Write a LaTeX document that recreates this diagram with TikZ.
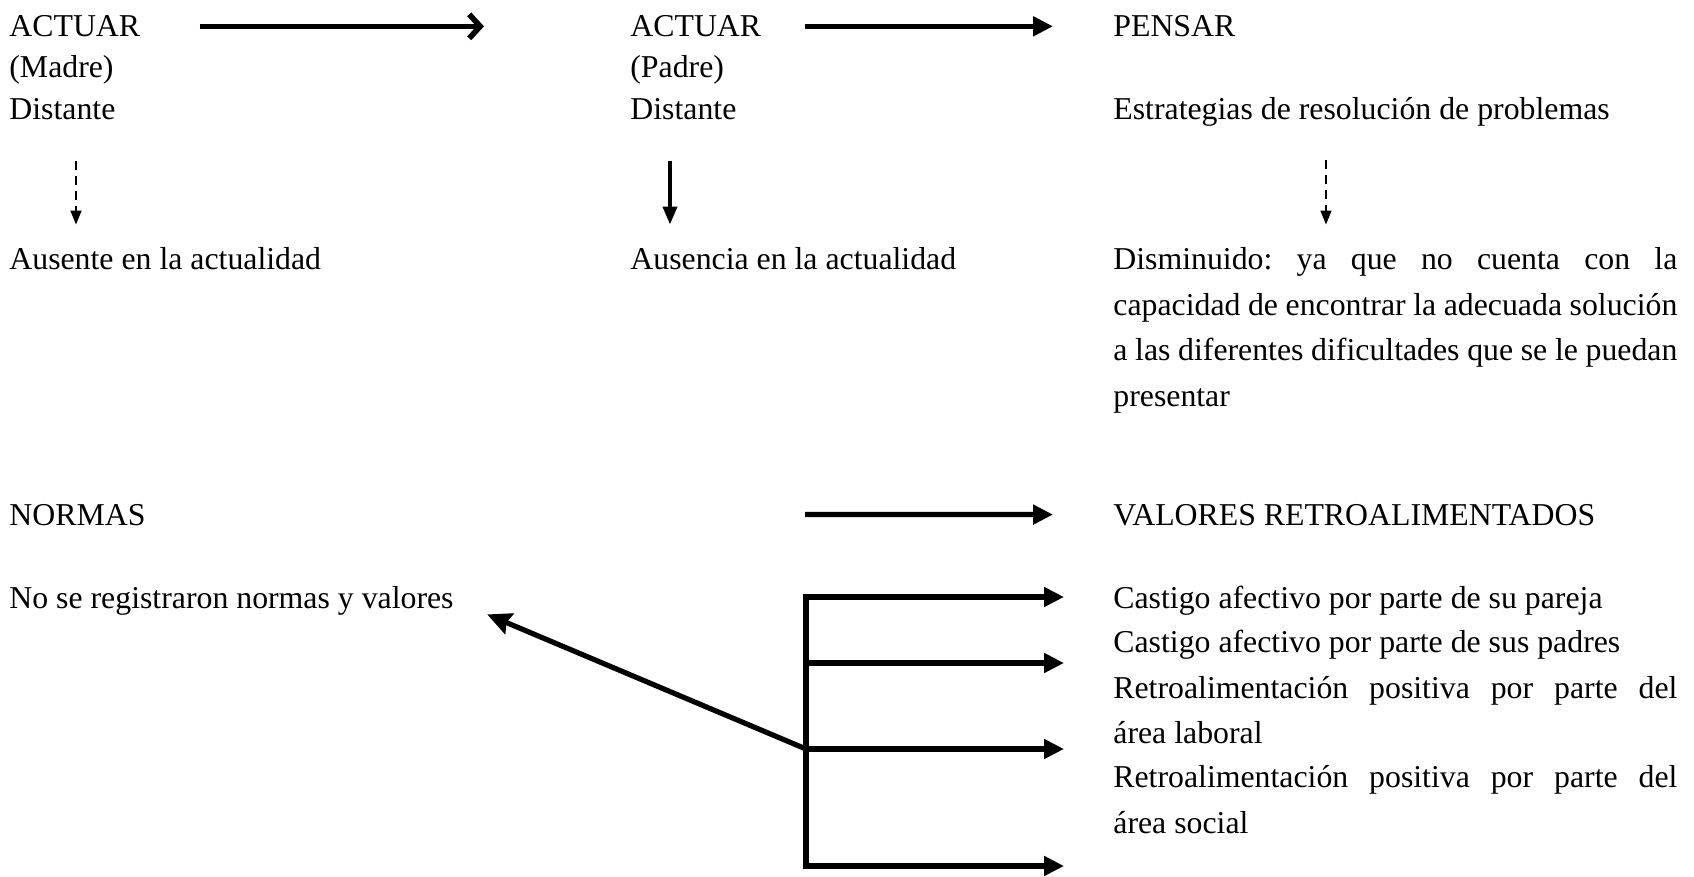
\documentclass[tikz,border=0pt]{standalone}
\usepackage{fontspec}
\setmainfont{Liberation Serif}
\usetikzlibrary{arrows.meta}
\frenchspacing
\begin{document}
\begin{tikzpicture}[x=0.5pt,y=0.5pt,yscale=-1,xscale=1,
  txt/.style={anchor=base west,inner sep=0pt,font=\fontsize{15.9}{22.7}\selectfont},
  blocktxt/.style={txt,text width=282pt,align=justify},
  heavy/.style={line width=2.6pt,-{Triangle[length=10pt,width=9.5pt]}},
  barb/.style={line width=2.8pt,-{Straight Barb[length=5.5pt,width=12pt]}},
  dashdown/.style={line width=0.75pt,dash pattern=on 4.5pt off 3pt,-{Triangle[length=7pt,width=5.5pt]}},
  soliddown/.style={line width=2pt,-{Triangle[length=9pt,width=7pt]}}]
\useasboundingbox (0,0) rectangle (1694,877);

% Text Node
\node[txt] (actuarM) at (9,36.7) {ACTUAR};
\node[txt] (madre) at (9,77.8) {(Madre)};
\node[txt] (distM) at (9,120) {Distante};
% Text Node
\node[txt] (actuarP) at (630,36.7) {ACTUAR};
\node[txt] (padre) at (630,77.8) {(Padre)};
\node[txt] (distP) at (630,120) {Distante};
% Text Node
\node[txt] (pensar) at (1113,36.7) {PENSAR};
\node[txt] (estrat) at (1113,120) {Estrategias de resolución de problemas};
% Text Node
\node[txt] (ausente) at (9,270) {Ausente en la actualidad};
\node[txt] (ausencia) at (630,270) {Ausencia en la actualidad};
\node[blocktxt] (dismin) at (1113,270) {Disminuido: ya que no cuenta con la\linebreak capacidad de encontrar la adecuada solución\linebreak a las diferentes dificultades que se le puedan\linebreak presentar};
% Text Node
\node[txt] (normas) at (9,525) {NORMAS};
\node[txt] (valores) at (1113,525) {VALORES RETROALIMENTADOS};
\node[txt] (noreg) at (9,608) {No se registraron normas y valores};
% Text Node
\node[txt] (cast1) at (1113,608) {Castigo afectivo por parte de su pareja};
\node[txt] (cast2) at (1113,652.6) {Castigo afectivo por parte de sus padres};
\node[blocktxt] (retro1) at (1113,698) {Retroalimentación positiva por parte del\linebreak área laboral};
\node[blocktxt] (retro2) at (1113,787.6) {Retroalimentación positiva por parte del\linebreak área social};

%Straight Lines
\draw[barb,shorten <=29.5pt,shorten >=73pt] (actuarM) -- (actuarP);
\draw[heavy,shorten <=21.5pt,shorten >=30pt] (actuarP) -- (pensar);
%Straight Lines
\coordinate (c1) at (76,0);
\coordinate (c2) at (670,0);
\coordinate (c3) at (1326,0);
\draw[dashdown,shorten <=20pt,shorten >=11.5pt] (distM.south -| c1) -- (ausente.north -| c1);
\draw[soliddown,shorten <=20pt,shorten >=11.5pt] (distP.south -| c2) -- (ausencia.north -| c2);
\draw[dashdown,shorten <=16.5pt,shorten >=11.5pt] (estrat.south -| c3) -- (dismin.north -| c3);
%Straight Lines
\coordinate (n3) at (805,514.5);
\draw[heavy,shorten >=30pt] (n3) -- (valores);
%Straight Lines
\coordinate (b1) at (806,597);
\coordinate (b2) at (806,663);
\coordinate (b3) at (806,749);
\coordinate (b4) at (806,866);
\draw[line width=2.6pt,line cap=rect] (b1) -- (b4);
\foreach \b in {b1,b2,b3,b4}
  \draw[heavy,shorten >=24.5pt] (\b) -- (\b -| cast1.west);
\draw[line width=2.6pt,-{Stealth[length=12pt,width=11pt,inset=1.5pt]},shorten >=18pt] (b3) -- (noreg.east);

\end{tikzpicture}
\end{document}
